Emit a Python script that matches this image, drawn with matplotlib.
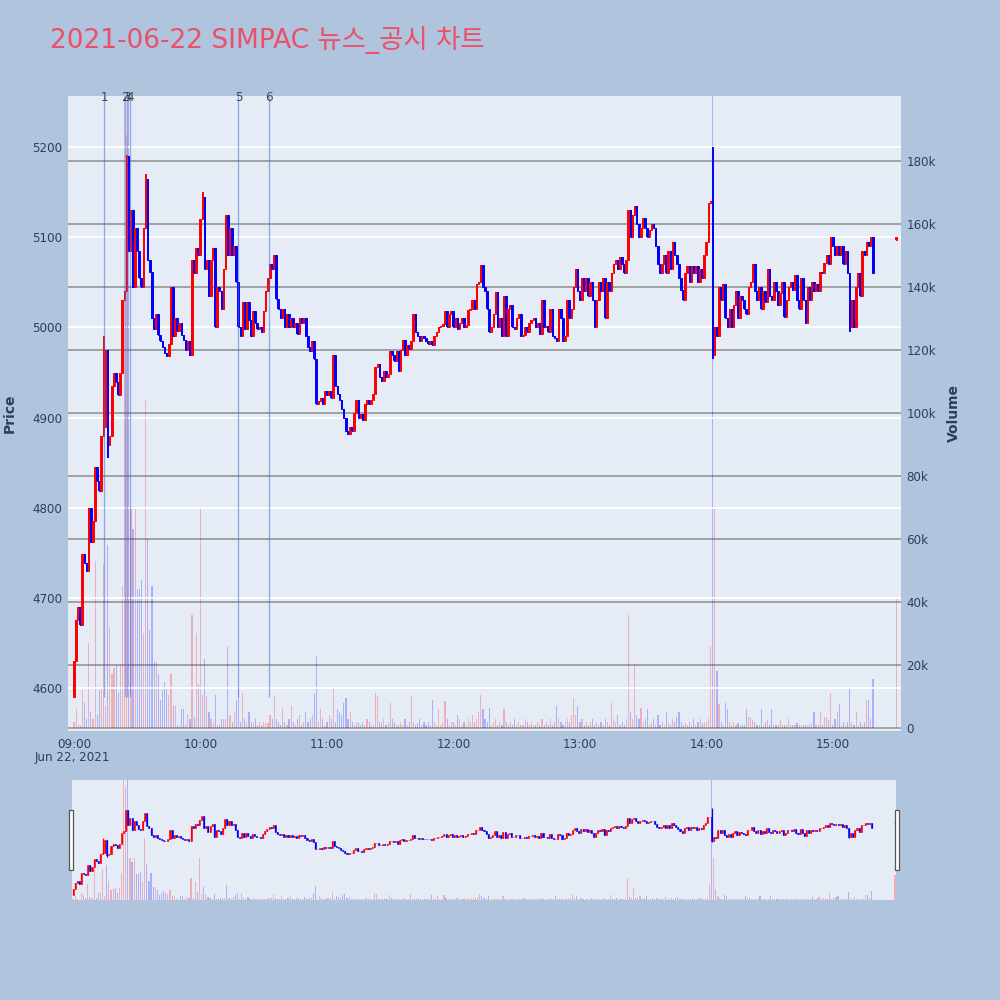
import matplotlib
matplotlib.use("Agg")
import matplotlib.pyplot as plt
from matplotlib.patches import Rectangle
import matplotlib.transforms as mtransforms

plt.rcParams['font.family'] = ['DejaVu Sans', 'Noto Sans CJK KR']

title = "2021-06-22 SIMPAC 뉴스_공시 차트"
date_label = "Jun 22, 2021"
time_ticks = [0, 60, 120, 180, 240, 300, 360]
time_labels = ["09:00", "10:00", "11:00", "12:00", "13:00", "14:00", "15:00"]
price_ticks = [4600, 4700, 4800, 4900, 5000, 5100, 5200]
volume_ticks_k = [0, 20, 40, 60, 80, 100, 120, 140, 160, 180]

# minute-by-minute closes from 09:00 (minute 0) to 15:19 (minute 379)
first_open = 4590
closes = [
    4630, 4675, 4690, 4670, 4748, 4738, 4730, 4800, 4762, 4785,
    4845, 4830, 4818, 4880, 4890, 4975, 4870, 4880, 4935, 4950,
    4940, 4925, 4950, 5030, 5040, 5190, 5085, 5130, 5045, 5110,
    5085, 5055, 5045, 5110, 5165, 5075, 5062, 5010, 4998, 5015,
    4992, 4985, 4978, 4972, 4968, 4982, 5045, 4990, 5010, 4996,
    5005, 4992, 4986, 4975, 4985, 4970, 5075, 5060, 5088, 5080,
    5120, 5145, 5065, 5075, 5035, 5075, 5088, 5000, 5045, 5040,
    5020, 5065, 5125, 5080, 5110, 5080, 5090, 5050, 5000, 4990,
    5028, 4998, 5028, 5008, 4990, 5018, 5005, 4998, 5000, 4995,
    5018, 5040, 5055, 5070, 5065, 5080, 5032, 5020, 5010, 5020,
    5000, 5015, 5000, 5010, 5000, 5005, 4993, 5010, 5005, 5010,
    4990, 4978, 4974, 4985, 4965, 4915, 4918, 4922, 4915, 4930,
    4925, 4930, 4922, 4970, 4935, 4926, 4919, 4910, 4900, 4885,
    4882, 4890, 4885, 4905, 4920, 4900, 4904, 4897, 4915, 4919,
    4915, 4920, 4926, 4956, 4960, 4945, 4941, 4952, 4945, 4948,
    4974, 4970, 4963, 4974, 4952, 4975, 4986, 4970, 4980, 4976,
    4985, 5015, 4995, 4990, 4985, 4990, 4988, 4985, 4982, 4985,
    4980, 4990, 4995, 5000, 5002, 5004, 5018, 5000, 5015, 5018,
    5000, 5010, 4998, 5005, 5010, 5000, 5003, 5019, 5020, 5030,
    5020, 5048, 5050, 5069, 5045, 5040, 5020, 4995, 5000, 5015,
    5039, 5000, 5010, 4990, 5035, 4990, 5020, 5025, 5000, 4998,
    5010, 5015, 4990, 4992, 5000, 4995, 5005, 5008, 5010, 5000,
    5005, 4993, 5030, 5000, 5002, 4995, 5020, 4990, 4988, 4985,
    5020, 5010, 4985, 4990, 5030, 5010, 5020, 5045, 5065, 5040,
    5030, 5055, 5040, 5055, 5035, 5050, 5030, 5000, 5030, 5050,
    5040, 5055, 5010, 5050, 5040, 5060, 5070, 5075, 5065, 5078,
    5070, 5060, 5075, 5130, 5100, 5125, 5135, 5115, 5100, 5110,
    5122, 5110, 5100, 5108, 5115, 5110, 5090, 5070, 5060, 5070,
    5080, 5060, 5085, 5065, 5095, 5080, 5070, 5055, 5042, 5030,
    5060, 5068, 5050, 5068, 5060, 5068, 5050, 5065, 5055, 5080,
    5095, 5138, 5140, 4970, 5000, 4990, 5045, 5030, 5048, 5010,
    5000, 5020, 5000, 5025, 5040, 5010, 5035, 5030, 5020, 5015,
    5045, 5050, 5070, 5040, 5030, 5045, 5020, 5040, 5028, 5065,
    5035, 5030, 5050, 5040, 5025, 5038, 5050, 5012, 5030, 5045,
    5050, 5042, 5058, 5030, 5020, 5055, 5030, 5005, 5045, 5030,
    5050, 5040, 5048, 5040, 5062, 5060, 5072, 5080, 5070, 5100,
    5090, 5080, 5090, 5080, 5090, 5070, 5085, 5060, 5000, 5030,
    5000, 5045, 5060, 5035, 5085, 5080, 5095, 5090, 5100, 5060,
]
# notable wicks (minute -> price)
high_wicks = {14: 4990, 25: 5192, 34: 5170, 61: 5150, 303: 5200}
low_wicks = {0: 4590, 16: 4855, 303: 4965, 368: 4995}

# volume in thousands of shares, per minute
volumes_k = [
    2, 6, 1, 0.5, 12, 8, 3, 27, 5, 3,
    53, 4, 12, 13, 52, 7, 58, 32, 17, 19,
    20, 11, 20, 45, 210, 188, 240, 70, 63, 70,
    44, 44, 47, 30, 104, 60, 31, 45, 21, 21,
    17, 9, 12, 14.5, 12.5, 10.5, 17, 7, 7, 1,
    0.5, 6, 6, 1, 4.5, 3, 36, 3.4, 30, 14,
    70, 10.5, 22, 10, 5, 3, 2, 10.5, 1, 1,
    3, 3, 3, 25.6, 4, 2, 5, 9, 12, 2,
    11, 3, 2, 5, 2, 1.5, 3, 1, 2, 1,
    2, 1.5, 1.5, 4, 3, 10, 3, 2, 1, 6.5,
    2, 1, 3, 7, 2, 1, 3, 4, 1, 2,
    5, 2, 3, 4, 11, 23, 2, 6, 3, 1,
    2, 4, 3, 13, 2, 6, 5, 4, 8, 9.5,
    3, 5, 2, 1, 2, 1.5, 1, 2, 1, 3,
    2, 1, 1, 11, 10, 2, 1.5, 3, 1, 2,
    8, 3, 2, 1, 1, 2, 1, 3, 1, 2,
    10, 2, 1, 1.5, 3, 1, 2, 1, 2, 1,
    9, 2, 1, 6, 1, 2, 8.5, 3, 1, 2,
    2, 1, 4, 3, 1, 2, 1, 3, 2, 4,
    2, 3, 5, 10.5, 6, 3, 2, 6.5, 1, 2,
    3, 1, 2, 1, 6, 2, 1, 2, 1, 3,
    1, 2, 1, 1, 3, 2, 1, 2, 1, 1,
    2, 1, 3, 1, 2, 1, 3, 1, 2, 7,
    3, 2, 1, 2, 3, 2, 4, 9.5, 4, 7,
    2, 3, 1, 2, 1, 2, 3, 1, 2, 1,
    2, 1, 3, 2, 1, 8, 3, 2, 4, 1,
    2, 1, 3, 36, 5, 3, 20, 4, 3, 6.5,
    2, 3, 6, 1, 2, 3, 1, 4, 1, 2,
    1, 5, 2, 1, 3, 2, 3.5, 5, 2, 1,
    1.5, 1, 2, 1, 3, 1, 2, 3, 1.5, 2,
    2, 3, 26, 240, 70, 18, 7.5, 2, 1, 8,
    6, 2, 1, 2, 1, 1.5, 1, 1, 1, 6,
    3.5, 3.5, 2.5, 2, 1, 1, 6, 1, 2, 2.5,
    1, 6, 1, 1, 1, 2.5, 1, 1, 1, 3,
    1, 1, 1, 1.5, 1, 1, 1, 1, 1, 1,
    1.5, 5, 1, 1, 5, 1, 3.5, 3.5, 2.5, 11,
    1, 3, 5, 7.5, 1, 2, 1, 2, 13, 2,
    1, 5, 1, 2, 1, 2, 9, 9, 3, 15.5,
]

# closing auction at 15:30
auction_minute = 390
auction_open = 5097
auction_close = 5100
auction_volume_k = 41

# news / disclosure markers
news_minutes = [14.4, 24.2, 25.0, 26.6, 78.0, 92.6]
news_labels = ["1", "2", "3", "4", "5", "6"]

# ---------------------------------------------------------------
minutes = list(range(len(closes))) + [auction_minute]
opens = [first_open] + closes[:-1] + [auction_open]
cls = closes + [auction_close]
vols = volumes_k + [auction_volume_k]
highs = [max(o, c) for o, c in zip(opens, cls)]
lows = [min(o, c) for o, c in zip(opens, cls)]
for k, v in high_wicks.items():
    highs[k] = max(highs[k], v)
for k, v in low_wicks.items():
    lows[k] = min(lows[k], v)
up = [c >= o for o, c in zip(opens, cls)]

RED = "#ff0000"
BLUE = "#0000ff"
VRED = (1.0, 0.0, 0.0, 0.25)
VBLUE = (0.0, 0.0, 1.0, 0.25)
BG = "#e5ecf6"
TXT = "#2a3f5f"

fig = plt.figure(figsize=(10, 10), dpi=100)
fig.patch.set_facecolor("#b0c4de")


def draw_candles(ax, wick_lw, body_w, edge_lw):
    for i, m in enumerate(minutes):
        col = RED if up[i] else BLUE
        ax.vlines(m, lows[i], highs[i], color=col, lw=wick_lw, zorder=3)
        b = min(opens[i], cls[i])
        h = max(abs(cls[i] - opens[i]), 0.8)
        ax.bar(m, h, bottom=b, width=body_w, color=col, edgecolor=col,
               linewidth=edge_lw, zorder=3)


def draw_volume(ax, width):
    cols = [VRED if u else VBLUE for u in up]
    ax.bar(minutes, vols, width=width, color=cols, linewidth=0, zorder=2)


# ---------------- main chart ----------------
axv = fig.add_axes([0.068, 0.269, 0.833, 0.635])
axv.set_facecolor(BG)
axp = axv.twinx()
axp.patch.set_visible(False)

xlim = (-2.85, 392.3)
axv.set_xlim(*xlim)
axv.set_ylim(-0.95, 200.5)
axp.set_ylim(4552, 5257)

draw_volume(axv, 0.55)
axv.set_yticks(volume_ticks_k)
axv.set_yticklabels(["0"] + [f"{v}k" for v in volume_ticks_k[1:]])
axv.yaxis.tick_right()
axv.yaxis.set_label_position("right")
for v in volume_ticks_k:
    axv.axhline(v, color="#8c8c8c", lw=1.1, zorder=1.5)
axv.axhline(0, color="white", lw=1.6, zorder=1.4)

axp.yaxis.tick_left()
axp.yaxis.set_label_position("left")
axp.set_yticks(price_ticks)
for p in price_ticks:
    axp.axhline(p, color="white", lw=1.3, zorder=0.5)

draw_candles(axp, 1.4, 0.6, 0.7)

# news lines and labels
axp.vlines(news_minutes, 4590, 5257, color="royalblue", lw=0.9, alpha=0.55, zorder=4)
trans = mtransforms.blended_transform_factory(axp.transData, axp.transAxes)
for m, lab in zip(news_minutes, news_labels):
    axp.text(m, 0.997, lab, transform=trans, ha="center", va="center",
             fontsize=8.6, color="#444444", zorder=5)

axv.set_xticks(time_ticks)
axv.set_xticklabels(time_labels)
for a in (axv, axp):
    a.tick_params(length=0, labelsize=8.6, labelcolor=TXT)
    for s in a.spines.values():
        s.set_visible(False)
axv.tick_params(axis="x", pad=5)
axv.tick_params(axis="y", pad=4)
axp.tick_params(axis="y", pad=4)

fig.text(0.0725, 0.242, date_label, ha="center", va="center", fontsize=8.6, color=TXT)
fig.text(0.010, 0.587, "Price", rotation=90, ha="center", va="center",
         fontsize=10, color=TXT, fontweight="bold")
fig.text(0.954, 0.587, "Volume", rotation=90, ha="center", va="center",
         fontsize=10, color=TXT, fontweight="bold")
fig.text(0.05, 0.960, title, ha="left", va="center", fontsize=19, color="#ea5069")

# ---------------- range slider ----------------
asv = fig.add_axes([0.072, 0.100, 0.824, 0.120])
asv.set_facecolor(BG)
asp = asv.twinx()
asp.patch.set_visible(False)
asv.set_xlim(-0.5, 390.5)
asv.set_ylim(0, 200)
asp.set_ylim(4556, 5400)
draw_volume(asv, 0.55)
draw_candles(asp, 0.9, 0.5, 0.4)
for a in (asv, asp):
    a.set_xticks([])
    a.set_yticks([])
    for s in a.spines.values():
        s.set_visible(False)

for x0 in (0.069, 0.895):
    fig.patches.append(Rectangle((x0, 0.130), 0.004, 0.060, transform=fig.transFigure,
                                 facecolor="white", edgecolor="#555555", lw=0.9, zorder=10))

fig.savefig("out.png", dpi=100, facecolor=fig.get_facecolor())
